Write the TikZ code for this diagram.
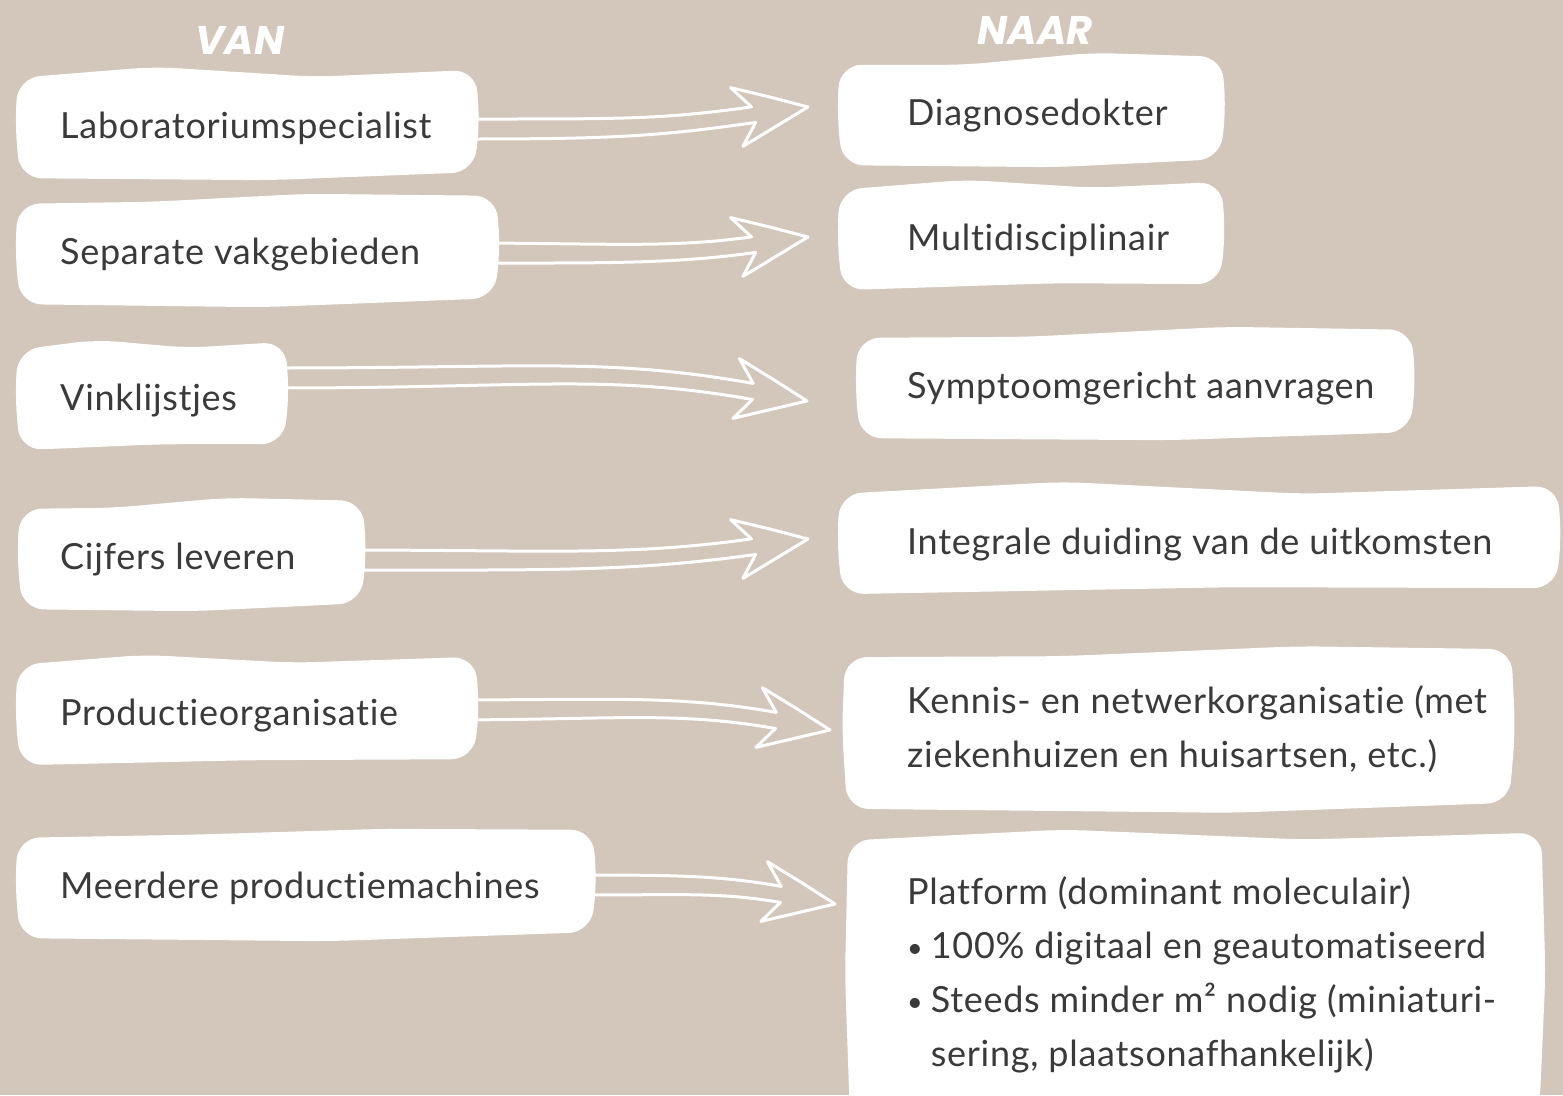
\documentclass[tikz,border=0pt]{standalone}
\usepackage{fontspec}
\setmainfont{Lato}[LetterSpace=2.0,Ligatures=NoCommon]
\newfontfamily\kopfont{Poppins}
\usetikzlibrary{calc,backgrounds}
\definecolor{zand}{HTML}{D3C6BA}
\definecolor{tekstgrijs}{HTML}{3A3A3A}
\newcommand{\bol}{\raisebox{1.5pt}{\scalebox{.75}{•}}\kern8pt}

% witte papiervorm achter een node: #1 naam, #2 golf boven, #3 rechts, #4 onder, #5 links
\newcommand{\blob}[5]{%
  \fill[white,rounded corners=22pt]
    ($(#1.north west)+({-1*#5},6)$)
    -- ($(#1.north west)!.3!(#1.north east)+(0,{-1*#2})$)
    -- ($(#1.north west)!.65!(#1.north east)+(0,{#2})$)
    -- ($(#1.north east)+({#3},-2)$)
    -- ($(#1.east)+({#3+4},0)$)
    -- ($(#1.south east)+({#3-2},-4)$)
    -- ($(#1.south west)!.55!(#1.south east)+(0,{#4})$)
    -- ($(#1.south west)+({-1*#5+2},2)$)
    -- ($(#1.west)+({-1*#5-3},0)$)
    -- cycle;}

% holle pijl: #1 van-node, #2 dy start, #3 naar-node, #4 dx punt, #5 dy punt, #6 hoek kop, #7 boog
\newcommand{\vanaar}[7]{%
  \begin{scope}[shift={($(#3.west)+(#4,#5)$)},rotate=#6]
    \draw[pijl] (-56,-8) coordinate (#1-b) -- (-74,-30) -- (-36,-15) -- (0,0)
      -- (-70,30) -- (-54,8) coordinate (#1-o);
  \end{scope}
  \draw[pijl] ($(#1.east)+(0,{#2-10})$) .. controls +(#7,0) and +({-0.6*#7*cos(#6)},{0.6*#7*sin(#6)}) .. (#1-b);
  \draw[pijl] ($(#1.east)+(0,{#2+10})$) .. controls +(#7,0) and +({-0.6*#7*cos(#6)},{0.6*#7*sin(#6)}) .. (#1-o);}

\begin{document}
\begin{tikzpicture}[x=1pt,y=-1pt,
  tekst/.style={font=\fontsize{36}{54}\selectfont,text=tekstgrijs,inner ysep=34pt,anchor=west,align=left},
  van/.style={tekst,inner xsep=42pt,text height=32pt,text depth=4pt},
  naar/.style={tekst,inner xsep=50pt,text height=32pt,text depth=4pt},
  naarlang/.style={tekst,inner xsep=50pt},
  pijl/.style={draw=white,line width=3pt,line join=round,line cap=round},
  kop/.style={text=white,font=\kopfont\bfseries\itshape\fontsize{40}{40}\selectfont}]
  \useasboundingbox (0,0) rectangle (1563,1095);

  \node[kop] (van) at (240,40) {VAN};
  \node[kop] (naar) at (1035,30) {NAAR};

  \node[van] (lab) at (18,124) {Laboratoriumspecialist};
  \node[van] (sep) at (18,250) {Separate vakgebieden};
  \node[van] (vink) at (18,396) {Vinklijstjes};
  \node[van] (cijf) at (18,555) {Cijfers leveren};
  \node[van] (prod) at (18,711) {Productieorganisatie};
  \node[van] (meer) at (18,884) {Meerdere productiemachines};

  \node[naar] (diag) at (857,111) {Diagnosedokter};
  \node[naar] (multi) at (857,236) {Multidisciplinair};
  \node[naar] (symp) at (857,384) {Symptoomgericht aanvragen};
  \node[naar] (integ) at (857,540) {Integrale duiding van de uitkomsten};
  \node[naarlang] (kennis) at (857,729) {Kennis- en netwerkorganisatie (met\\ziekenhuizen en huisartsen, etc.)};
  \node[naarlang,inner ysep=42pt] (platf) at (857,975) {Platform (dominant moleculair)\\
    \bol 100\% digitaal en geautomatiseerd\\
    \bol Steeds minder m² nodig (miniaturi-\\
    \hphantom{\bol}sering, plaatsonafhankelijk)};

  \begin{scope}[on background layer]
    \fill[zand] (0,0) rectangle (1563,1095);
    \blob{lab}{5}{2}{4}{0}
    \blob{sep}{-4}{34}{5}{0}
    \blob{vink}{4}{6}{-4}{0}
    \blob{cijf}{-5}{25}{4}{-2}
    \blob{prod}{4}{35}{-3}{0}
    \blob{meer}{-3}{11}{5}{0}
    \blob{diag}{-6}{4}{4}{17}
    \blob{multi}{4}{2}{-5}{17}
    \blob{symp}{-5}{-13}{4}{-1}
    \blob{integ}{6}{15}{-5}{17}
    \blob{kennis}{-5}{-26}{6}{12}
    \blob{platf}{5}{-5}{-4}{9}
  \end{scope}

  \vanaar{lab}{5}{diag}{-49}{-4}{8}{150}
  \vanaar{sep}{3}{multi}{-49}{1}{8}{140}
  \vanaar{vink}{-18}{symp}{-50}{17}{-10}{250}
  \vanaar{cijf}{5}{integ}{-49}{-1}{8}{210}
  \vanaar{prod}{-1}{kennis}{-27}{1}{-10}{170}
  \vanaar{meer}{1}{platf}{-22}{-71}{-10}{100}
\end{tikzpicture}
\end{document}
